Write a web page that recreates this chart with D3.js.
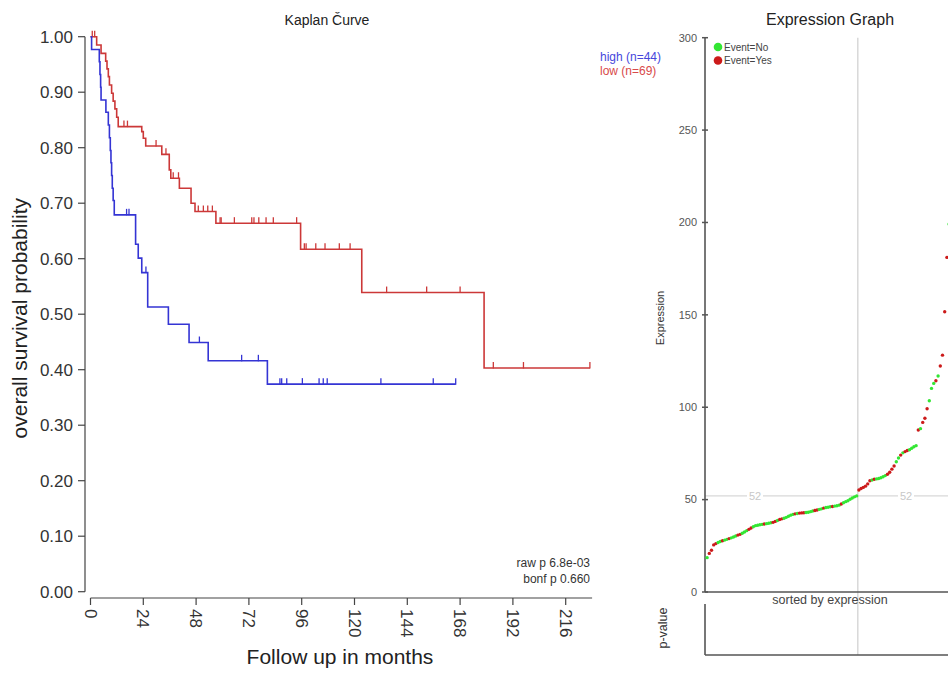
<!DOCTYPE html>
<html>
<head>
<meta charset="utf-8">
<script src="https://cdn.jsdelivr.net/npm/d3@7"></script>
<style>
  html, body { margin: 0; padding: 0; background: #fff; }
  svg { display: block; font-family: "Liberation Sans", Arial, sans-serif; }
</style>
</head>
<body>
<svg id="chart" width="948" height="673"></svg>
<script>
// ---------- Kaplan-Meier data (months, survival) ----------
const kmXTicks = [0, 24, 48, 72, 96, 120, 144, 168, 192, 216];
const kmYTicks = [0, 0.1, 0.2, 0.3, 0.4, 0.5, 0.6, 0.7, 0.8, 0.9, 1.0];

const highSteps = [
  [0, 1.0], [0.5, 0.977], [4.0, 0.955], [4.3, 0.932], [4.6, 0.909], [4.8, 0.886],
  [7.0, 0.864], [8.1, 0.841], [8.6, 0.818], [9.0, 0.795], [9.3, 0.773], [9.6, 0.750],
  [9.9, 0.727], [10.3, 0.705], [10.8, 0.679], [20.5, 0.626], [21.7, 0.601],
  [23.3, 0.575], [26.0, 0.513], [35.4, 0.482], [44.8, 0.449], [53.5, 0.416],
  [80.4, 0.374]
];
const highEnd = 166;
const highCensor = [16.4, 17.5, 25.2, 49.5, 68.7, 76.3, 86.1, 86.9, 89.2, 96.3,
  103.9, 105.8, 107.6, 132, 155.8, 166];

const lowSteps = [
  [0, 1.0], [2.8, 0.985], [4.8, 0.970], [6.9, 0.956], [7.5, 0.942], [8.1, 0.928],
  [8.6, 0.913], [9.6, 0.898], [10.3, 0.884], [11.1, 0.870], [11.9, 0.855],
  [12.6, 0.838], [23.3, 0.829], [24.0, 0.817], [25.1, 0.803], [32.4, 0.788],
  [35.8, 0.760], [36.5, 0.745], [40.4, 0.727], [45.7, 0.700], [47.5, 0.685],
  [57.0, 0.664], [95.5, 0.617], [123.3, 0.539], [178.9, 0.403]
];
const lowEnd = 227;
const lowCensor = [0.8, 1.9, 15.2, 16.8, 29.8, 34.3, 37.6, 40.0, 49.0, 51.3, 53.3,
  55.4, 58.9, 59.4, 65.4, 73.3, 74.3, 76.5, 79.8, 83.1, 93.7, 97.2, 98.0, 102.4,
  106.6, 113.1, 118.0, 134.6, 152.8, 168.0, 183.1, 196.8, 227.0];

const groups = ["high (n=44)", "low (n=69)"];
const rawP = "raw p 6.8e-03";
const bonfP = "bonf p 0.660";

// ---------- Expression data (sorted) ----------
const exprValues = [
  18.6, 20.9, 22.6, 25.5, 26.2, 26.8, 27.3, 27.7, 28.1, 28.5, 28.9, 29.3, 29.8, 30.3,
  30.8, 31.2, 31.8, 32.5, 33.2, 33.9, 34.6, 35.3, 35.9, 36.1, 36.4, 36.6, 36.8, 37.0,
  37.2, 37.5, 37.7, 38.2, 38.7, 39.2, 39.6, 39.9, 40.4, 41.0, 41.6, 42.0, 42.3, 42.5,
  42.7, 42.8, 42.9, 43.0, 43.2, 43.5, 43.8, 44.1, 44.4, 44.7, 45.0, 45.4, 45.7, 45.9,
  46.1, 46.3, 46.5, 46.7, 47.0, 47.6, 48.3, 48.9, 49.4, 50.2, 50.9, 51.5, 52.0,
  55.2, 56.0, 56.6, 57.3, 58.5, 60.2, 60.6, 61.0, 61.2, 61.4, 61.8, 62.4, 63.0, 63.7,
  64.8, 66.5, 68.2, 70.5, 72.5, 74.1, 75.3, 76.0, 76.6, 77.0, 77.8, 78.6, 79.2, 87.7,
  88.4, 91.8, 94.0, 99.2, 103.5, 110.2, 112.9, 114.3, 116.9, 122.3, 128.2, 151.7,
  181.1, 199.1, 230, 270
];
const exprEvents = [
  0, 1, 1, 1, 1, 0, 0, 1, 0, 0, 1, 0, 0, 0, 1, 1, 0, 0, 0, 1, 1, 0, 0, 0, 0, 0, 1, 0,
  0, 0, 1, 1, 0, 1, 1, 0, 0, 0, 0, 0, 1, 0, 1, 1, 1, 0, 0, 0, 0, 1, 1, 0, 0, 1, 0, 0,
  0, 1, 0, 0, 0, 1, 0, 0, 0, 0, 0, 0, 0,
  1, 1, 1, 1, 1, 1, 0, 1, 0, 0, 0, 0, 0, 1, 1, 1, 1, 0, 0, 1, 0, 1, 1, 0, 0, 0, 0, 1,
  0, 1, 1, 1, 0, 0, 0, 1, 0, 1, 1, 1, 1, 0, 1, 1
];
const exprCutoff = 52;
const exprCutIndex = 69;
const exprYTicks = [0, 50, 100, 150, 200, 250, 300];
const eventLabels = ["Event=No", "Event=Yes"];

// ---------- Drawing ----------
const svg = d3.select("#chart");
const blue = "#3434d4", red = "#cc3838";
const green = "#33e633", dred = "#cc1a1a";

// KM scales
const x = d3.scaleLinear().domain([0, 228]).range([90.5, 592.1]);
const y = d3.scaleLinear().domain([0, 1]).range([591.7, 36.7]);

// Title
svg.append("text").attr("x", 327).attr("y", 25).attr("text-anchor", "middle")
  .attr("font-size", 14).attr("fill", "#222").text("Kaplan Čurve");

// Y axis
const yAxisX = 85;
const gy = svg.append("g");
gy.append("line").attr("x1", yAxisX).attr("x2", yAxisX)
  .attr("y1", y(0)).attr("y2", y(1)).attr("stroke", "#444").attr("stroke-width", 1.2);
kmYTicks.forEach(t => {
  gy.append("line").attr("x1", yAxisX - 7).attr("x2", yAxisX)
    .attr("y1", y(t)).attr("y2", y(t)).attr("stroke", "#444").attr("stroke-width", 1.2);
  gy.append("text").attr("x", yAxisX - 12).attr("y", y(t)).attr("dy", "0.35em")
    .attr("text-anchor", "end").attr("font-size", 17).attr("fill", "#333")
    .text(d3.format(".2f")(t));
});
svg.append("text").attr("transform", `translate(27,${(y(0) + y(1)) / 2 + 4}) rotate(-90)`)
  .attr("text-anchor", "middle").attr("font-size", 21).attr("fill", "#222")
  .text("overall survival probability");

// X axis
const xAxisY = 598;
const gx = svg.append("g");
gx.append("line").attr("x1", x(0)).attr("x2", x(228))
  .attr("y1", xAxisY).attr("y2", xAxisY).attr("stroke", "#444").attr("stroke-width", 1.2);
kmXTicks.forEach(t => {
  gx.append("line").attr("x1", x(t)).attr("x2", x(t))
    .attr("y1", xAxisY).attr("y2", xAxisY + 7).attr("stroke", "#444").attr("stroke-width", 1.2);
  gx.append("text").attr("transform", `translate(${x(t)},${xAxisY + 11}) rotate(90)`)
    .attr("dy", "0.35em").attr("text-anchor", "start").attr("font-size", 17)
    .attr("fill", "#333").text(t);
});
svg.append("text").attr("x", 340).attr("y", 664).attr("text-anchor", "middle")
  .attr("font-size", 21).attr("fill", "#222").text("Follow up in months");

// KM curves
function survAt(steps, t) {
  let s = steps[0][1];
  for (const [tt, v] of steps) { if (tt <= t) s = v; }
  return s;
}
function drawKM(steps, end, censor, color) {
  const pts = steps.map(d => [d[0], d[1]]).concat([[end, steps[steps.length - 1][1]]]);
  const line = d3.line().x(d => x(d[0])).y(d => y(d[1])).curve(d3.curveStepAfter);
  svg.append("path").attr("d", line(pts)).attr("fill", "none")
    .attr("stroke", color).attr("stroke-width", 1.6);
  svg.append("g").selectAll("line").data(censor).join("line")
    .attr("x1", d => x(d)).attr("x2", d => x(d))
    .attr("y1", d => y(survAt(steps, d)) - 6).attr("y2", d => y(survAt(steps, d)) + 0.5)
    .attr("stroke", color).attr("stroke-width", 1.3);
}
drawKM(lowSteps, lowEnd, lowCensor, red);
drawKM(highSteps, highEnd, highCensor, blue);

// Legend
svg.append("text").attr("x", 600).attr("y", 61).attr("font-size", 12)
  .attr("fill", "#4646dc").text(groups[0]);
svg.append("text").attr("x", 600).attr("y", 75).attr("font-size", 12)
  .attr("fill", "#d84a4a").text(groups[1]);

// p values
svg.append("text").attr("x", 590).attr("y", 567).attr("text-anchor", "end")
  .attr("font-size", 12).attr("fill", "#333").text(rawP);
svg.append("text").attr("x", 590).attr("y", 583).attr("text-anchor", "end")
  .attr("font-size", 12).attr("fill", "#333").text(bonfP);

// ---------- Expression graph ----------
const ex = d3.scaleLinear().domain([0, 113]).range([706, 954.6]);
const ey = d3.scaleLinear().domain([0, 300]).range([592, 37.7]);
const axX = 705;

svg.append("text").attr("x", 830).attr("y", 25).attr("text-anchor", "middle")
  .attr("font-size", 16).attr("fill", "#222").text("Expression Graph");

// grid lines at cutoff
const cutX = ex(exprCutIndex);
svg.append("line").attr("x1", cutX).attr("x2", cutX).attr("y1", ey(300)).attr("y2", 655)
  .attr("stroke", "#d8d8d8").attr("stroke-width", 1.5);
svg.append("line").attr("x1", axX).attr("x2", 948).attr("y1", ey(exprCutoff)).attr("y2", ey(exprCutoff))
  .attr("stroke", "#d8d8d8").attr("stroke-width", 1.2);
[755, 906].forEach(lx => {
  svg.append("rect").attr("x", lx - 8).attr("y", ey(exprCutoff) - 5).attr("width", 16)
    .attr("height", 10).attr("fill", "#fff");
  svg.append("text").attr("x", lx).attr("y", ey(exprCutoff)).attr("dy", "0.35em")
    .attr("text-anchor", "middle").attr("font-size", 11).attr("fill", "#c8c8c8").text(exprCutoff);
});

// Y axis
svg.append("line").attr("x1", axX).attr("x2", axX).attr("y1", ey(300)).attr("y2", ey(0))
  .attr("stroke", "#555").attr("stroke-width", 1.6);
exprYTicks.forEach(t => {
  svg.append("line").attr("x1", axX - 3).attr("x2", axX + 3).attr("y1", ey(t)).attr("y2", ey(t))
    .attr("stroke", "#555").attr("stroke-width", 1.5);
  svg.append("text").attr("x", axX - 8).attr("y", ey(t)).attr("dy", "0.35em")
    .attr("text-anchor", "end").attr("font-size", 11).attr("fill", "#555").text(t);
});
svg.append("line").attr("x1", axX).attr("x2", 948).attr("y1", ey(0)).attr("y2", ey(0))
  .attr("stroke", "#555").attr("stroke-width", 1.6);
svg.append("text").attr("transform", `translate(664,318) rotate(-90)`)
  .attr("text-anchor", "middle").attr("font-size", 11).attr("fill", "#333").text("Expression");
svg.append("text").attr("x", 830).attr("y", 604).attr("text-anchor", "middle")
  .attr("font-size", 12.5).attr("fill", "#444").text("sorted by expression");

// p-value panel
svg.append("line").attr("x1", axX).attr("x2", axX).attr("y1", 604).attr("y2", 655)
  .attr("stroke", "#555").attr("stroke-width", 1.6);
svg.append("line").attr("x1", axX).attr("x2", 948).attr("y1", 655).attr("y2", 655)
  .attr("stroke", "#555").attr("stroke-width", 1.6);
svg.append("text").attr("transform", `translate(667,628) rotate(-90)`)
  .attr("text-anchor", "middle").attr("font-size", 12.5).attr("fill", "#333").text("p-value");

// points
svg.append("g").selectAll("circle").data(exprValues).join("circle")
  .attr("cx", (d, i) => ex(i + 0.5)).attr("cy", d => ey(d)).attr("r", 1.7)
  .attr("fill", (d, i) => exprEvents[i] ? dred : green);

// legend
[0, 1].forEach(k => {
  svg.append("circle").attr("cx", 718).attr("cy", 47 + k * 13.5).attr("r", 4.3)
    .attr("fill", k ? dred : green);
  svg.append("text").attr("x", 724).attr("y", 47 + k * 13.5).attr("dy", "0.35em")
    .attr("font-size", 10).attr("fill", "#444").text(eventLabels[k]);
});
</script>
</body>
</html>
